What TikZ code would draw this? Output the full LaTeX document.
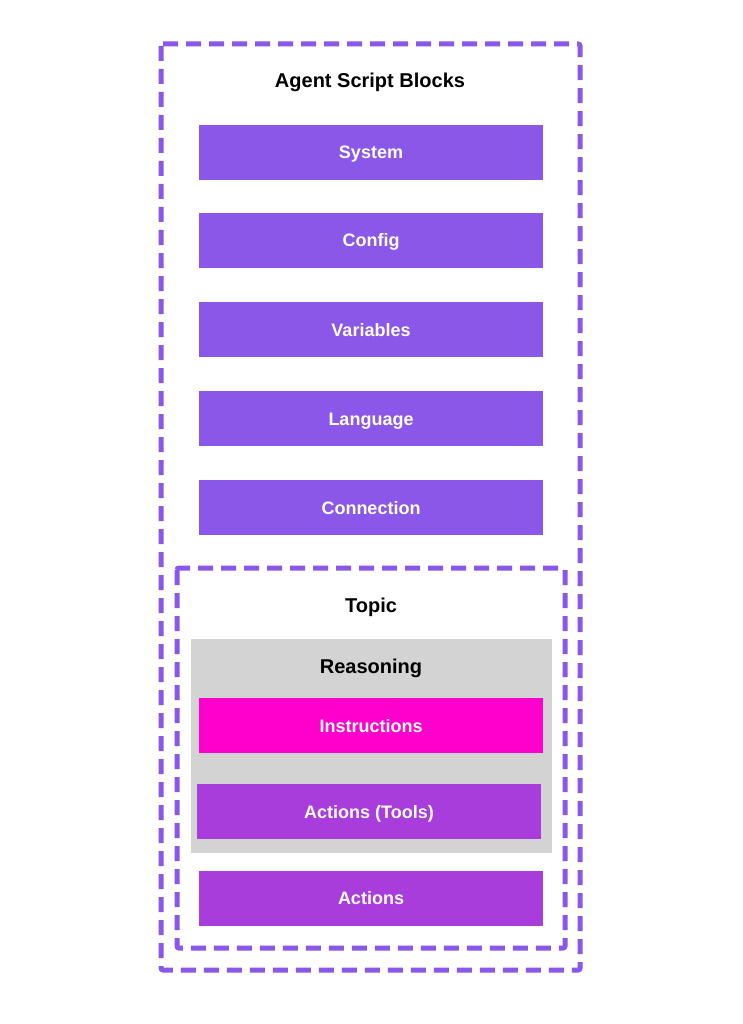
\documentclass[tikz,border=0pt]{standalone}
\usepackage{fontspec}
\setmainfont{Liberation Sans}
\begin{document}
\begin{tikzpicture}[x=1pt,y=-1pt,
  frame/.style={draw=dashpurple,line width=5pt,dash pattern=on 15pt off 8pt,rounded corners=2pt},
  blockbox/.style={fill=boxpurple,draw=none,minimum width=344pt,minimum height=55pt,inner sep=0pt,
     text height=13pt,text depth=0pt,
     text=white,font=\fontsize{18}{20}\selectfont\bfseries},
  titletext/.style={font=\fontsize{20}{22}\selectfont\bfseries,text=black,inner sep=0pt,
     text height=14.5pt,text depth=0pt}]
\definecolor{dashpurple}{HTML}{8B57E8}
\definecolor{boxpurple}{HTML}{8B57E8}
\definecolor{actpurple}{HTML}{A93DDB}
\definecolor{pinkc}{HTML}{FF00CC}
\definecolor{grayc}{HTML}{D3D3D3}
\useasboundingbox (0,0) rectangle (743,1024);
\fill[white] (0,0) rectangle (743,1024);
% outer frame
\draw[frame] (161,44) rectangle (580,970);
\node[titletext] (title) at (370,80) {Agent Script Blocks};
\node[blockbox] (system) at (371,152.5) {System};
\node[blockbox] (config) at (371,240.5) {Config};
\node[blockbox] (variables) at (371,329.5) {Variables};
\node[blockbox] (language) at (371,418.5) {Language};
\node[blockbox] (connection) at (371,507.5) {Connection};
% inner frame
\draw[frame] (177,568) rectangle (565,948);
\node[titletext] (topic) at (371,605) {Topic};
\fill[grayc] (191,639) rectangle (552,853);
\node[titletext] (reasoning) at (371,666) {Reasoning};
\node[blockbox,fill=pinkc] (instr) at (371,725.5) {Instructions};
\node[blockbox,fill=actpurple] (tools) at (369,811.5) {Actions (Tools)};
\node[blockbox,fill=actpurple] (actions) at (371,898) {Actions};
\end{tikzpicture}
\end{document}
